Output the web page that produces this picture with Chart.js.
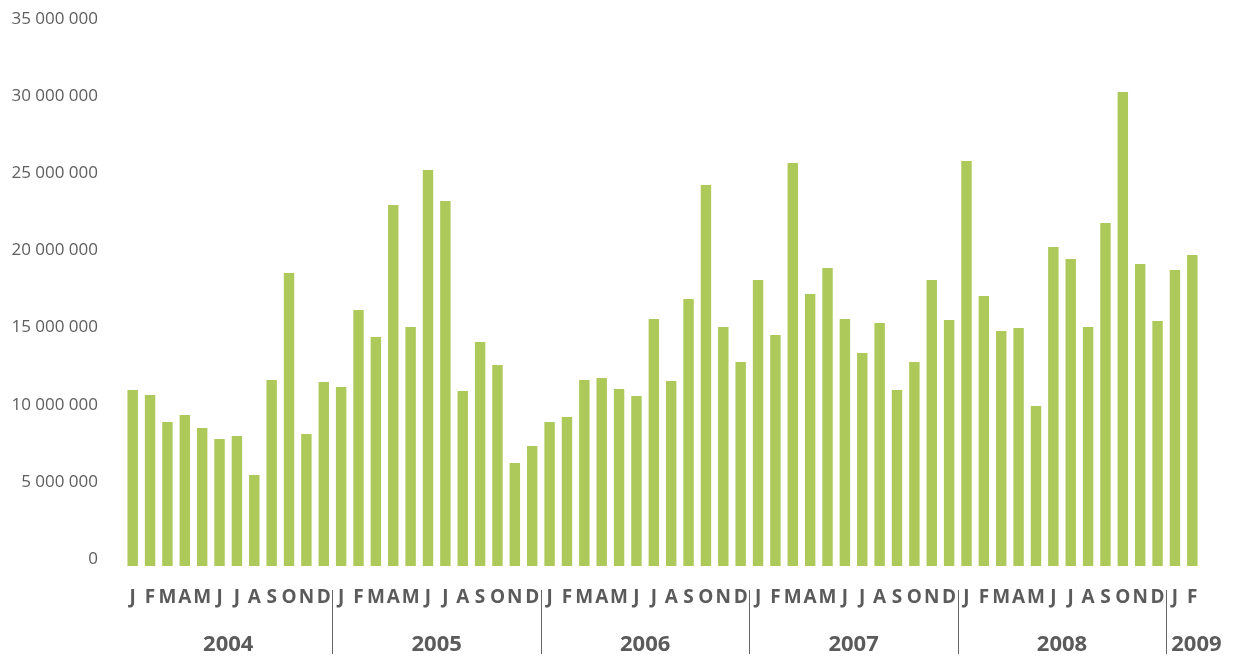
<!DOCTYPE html>
<html><head><meta charset="utf-8">
<script src="https://cdn.jsdelivr.net/npm/chart.js@4.4.1/dist/chart.umd.min.js"></script>
<style>html,body{margin:0;padding:0;background:#fff}#wrap{width:1236px;height:657px;position:relative}</style>
</head><body><div id="wrap"><canvas id="c"></canvas></div>
<script>
const years = ['2004','2005','2006','2007','2008','2009'];
const monthsPerYear = [12, 12, 12, 12, 12, 2];
const monthLabels = [
  'J','F','M','A','M','J','J','A','S','O','N','D',
  'J','F','M','A','M','J','J','A','S','O','N','D',
  'J','F','M','A','M','J','J','A','S','O','N','D',
  'J','F','M','A','M','J','J','A','S','O','N','D',
  'J','F','M','A','M','J','J','A','S','O','N','D',
  'J','F'
];
const values = [
  11400000, 11080000, 9330000, 9790000, 8940000, 8230000, 8430000, 5900000, 12050000, 18990000, 8550000, 11920000,
  11600000, 16590000, 14840000, 23400000, 15490000, 25660000, 23650000, 11340000, 14520000, 13030000, 6680000, 7780000,
  9330000, 9660000, 12050000, 12180000, 11470000, 11020000, 16010000, 11990000, 17300000, 24690000, 15490000, 13220000,
  18540000, 14970000, 26120000, 17630000, 19310000, 16010000, 13800000, 15750000, 11410000, 13220000, 18540000, 15940000,
  26250000, 17500000, 15230000, 15420000, 10370000, 20670000, 19900000, 15490000, 22230000, 30720000, 19570000, 15880000,
  19180000, 20160000
];
const yMax = 35000000;
const yStep = 5000000;

const GRAY = '#5b5b5b';
const GREEN = '#adc95a';

function fmt(v) {
  return String(v).replace(/\B(?=(\d{3})+(?!\d))/g, ' ');
}

const yearPlugin = {
  id: 'yearPlugin',
  afterDraw(chart) {
    const x = chart.scales.x;
    const ctx = chart.ctx;
    ctx.save();
    ctx.strokeStyle = '#666666';
    ctx.lineWidth = 1;
    ctx.fillStyle = GRAY;
    ctx.font = 'bold 22px "Open Sans"';
    ctx.textBaseline = 'middle';
    let start = 0;
    years.forEach((yr, k) => {
      const n = monthsPerYear[k];
      const end = start + n - 1;
      if (k > 0) {
        const sx = Math.round((x.getPixelForValue(start - 1) + x.getPixelForValue(start)) / 2) + 0.5;
        ctx.beginPath();
        ctx.moveTo(sx, 590);
        ctx.lineTo(sx, 654);
        ctx.stroke();
      }
      if (n >= 12) {
        ctx.textAlign = 'center';
        const cx = (x.getPixelForValue(start) + x.getPixelForValue(end)) / 2;
        ctx.fillText(yr, cx, 645);
      } else {
        ctx.textAlign = 'left';
        const sx = (x.getPixelForValue(start - 1) + x.getPixelForValue(start)) / 2;
        ctx.fillText(yr, sx + 5, 645);
      }
      start += n;
    });
    ctx.restore();
  }
};

new Chart(document.getElementById('c'), {
  type: 'bar',
  data: {
    labels: monthLabels,
    datasets: [{
      data: values,
      backgroundColor: GREEN,
      borderWidth: 0,
      barPercentage: 0.6,
      categoryPercentage: 1.0
    }]
  },
  options: {
    responsive: true,
    maintainAspectRatio: false,
    animation: false,
    devicePixelRatio: 1,
    layout: { padding: { top: 26, right: 35, bottom: 48, left: 0 } },
    plugins: { legend: { display: false }, tooltip: { enabled: false } },
    scales: {
      x: {
        grid: { display: false, drawTicks: false },
        border: { display: false },
        ticks: {
          autoSkip: false,
          maxRotation: 0,
          minRotation: 0,
          padding: 20,
          color: GRAY,
          font: { family: 'Open Sans', size: 19, weight: 'bold', lineHeight: 1.2 }
        },
        afterFit(s) { s.height = 43; s.paddingLeft = 0; s.paddingRight = 0; }
      },
      y: {
        min: 0,
        max: yMax,
        grid: { display: false, drawTicks: false },
        border: { display: false },
        ticks: {
          stepSize: yStep,
          padding: 26,
          labelOffset: -7,
          color: '#5e5e5e',
          font: { family: 'Open Sans', size: 17 },
          callback: v => fmt(v)
        },
        afterFit(s) { s.width = 124; s.paddingTop = 0; s.paddingBottom = 0; }
      }
    }
  },
  plugins: [yearPlugin]
});
</script>
</body></html>
